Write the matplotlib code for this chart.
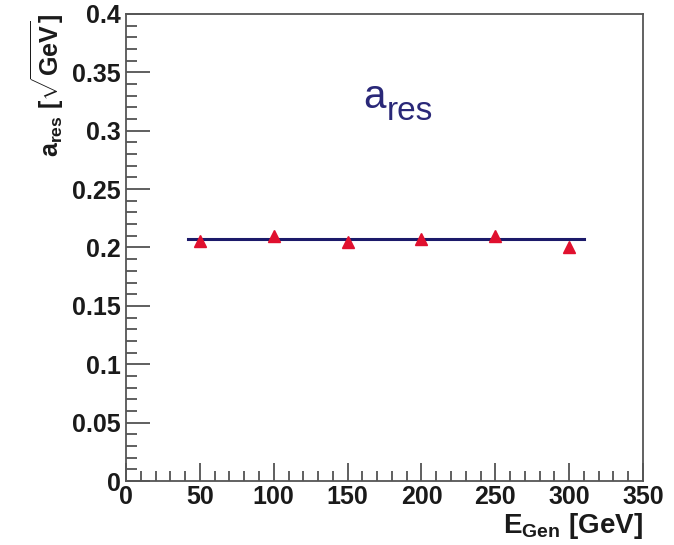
import numpy as np
import matplotlib
matplotlib.use('Agg')
from matplotlib import pyplot as plt
from matplotlib.ticker import MultipleLocator

# data
e_gen = [50, 100, 150, 200, 250, 300]
a_res = [0.2055, 0.2095, 0.2045, 0.2075, 0.2100, 0.2005]
fit_range = [42, 310]
fit_value = 0.2075
y_ticks = [0, 0.05, 0.1, 0.15, 0.2, 0.25, 0.3, 0.35, 0.4]
y_tick_labels = ['0', '0.05', '0.1', '0.15', '0.2', '0.25', '0.3', '0.35', '0.4']

plt.rcParams['font.family'] = 'Liberation Sans'
plt.rcParams['mathtext.fontset'] = 'custom'
plt.rcParams['mathtext.rm'] = 'Liberation Sans:bold'
plt.rcParams['mathtext.bf'] = 'Liberation Sans:bold'
plt.rcParams['mathtext.it'] = 'Liberation Sans:bold'

fig = plt.figure(figsize=(6.74, 5.45), dpi=100)
ax = fig.add_axes([0.187, 0.1174, 0.767, 0.857])

ax.plot(fit_range, [fit_value, fit_value], color='#1c1a6a', lw=2.2, zorder=2)
ax.plot(e_gen, a_res, linestyle='none', marker='^', color='#e0102e',
        markersize=9, zorder=3)

ax.set_xlim(0, 350)
ax.set_ylim(0, 0.4)
ax.xaxis.set_major_locator(MultipleLocator(50))
ax.xaxis.set_minor_locator(MultipleLocator(10))
ax.set_yticks(y_ticks)
ax.set_yticklabels(y_tick_labels)
ax.yaxis.set_minor_locator(MultipleLocator(0.01))
ax.tick_params(which='both', direction='in', top=False, right=False,
               color='#444444', width=1.2)
ax.tick_params(axis='y', which='major', length=17, labelsize=18, pad=4)
ax.tick_params(axis='y', which='minor', length=8)
ax.tick_params(axis='x', which='major', length=13, labelsize=18, pad=3)
ax.tick_params(axis='x', which='minor', length=7)
for lab in ax.get_xticklabels() + ax.get_yticklabels():
    lab.set_fontweight('bold')
    lab.set_color('#1a1a1a')
for s in ax.spines.values():
    s.set_color('#555555')
    s.set_linewidth(1.3)

ax.set_xlabel(r'$\mathregular{E_{Gen}\ [GeV]}$', fontsize=20, fontweight='bold',
              color='#1a1a1a', loc='right', labelpad=1)
ax.set_ylabel(r'$\mathregular{a_{res}\ [\sqrt{GeV}]}$', fontsize=18, fontweight='bold',
              color='#1a1a1a', loc='top', labelpad=4)

# big "a_res" caption, drawn as two texts to get the larger subscript
ax.text(0.458, 0.799, 'a', transform=ax.transAxes, fontsize=29,
        color='#2a2878', ha='left', va='baseline')
ax.text(0.505, 0.773, 'res', transform=ax.transAxes, fontsize=24,
        color='#2a2878', ha='left', va='baseline')

fig.savefig('out.png', dpi=100)
